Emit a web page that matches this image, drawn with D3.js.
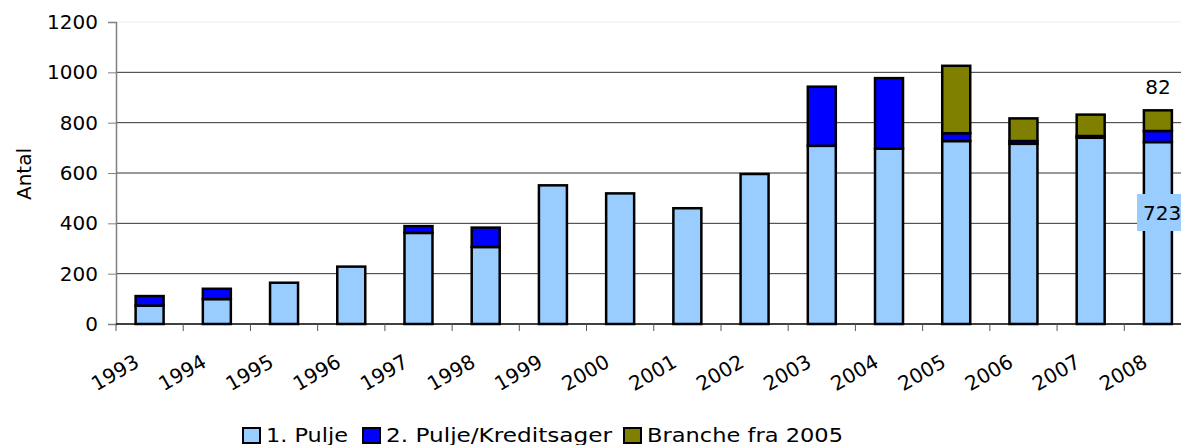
<!DOCTYPE html>
<html>
<head>
<meta charset="utf-8">
<script src="https://cdnjs.cloudflare.com/ajax/libs/d3/7.8.5/d3.min.js"></script>
<style>
  body { margin: 0; background: #fff; }
  svg text { font-family: "DejaVu Sans", Verdana, sans-serif; fill: #000; }
</style>
</head>
<body>
<script>
    // data
    var years = ['1993','1994','1995','1996','1997','1998','1999','2000','2001','2002','2003','2004','2005','2006','2007','2008']
    var pulje1 = [73, 99, 164, 228, 362, 306, 551, 519, 460, 596, 708, 697, 727, 716, 740, 723]
    var pulje2 = [38, 41, 0, 0, 27, 77, 0, 0, 0, 0, 235, 280, 31, 11, 7, 44]
    var branche = [0, 0, 0, 0, 0, 0, 0, 0, 0, 0, 0, 0, 268, 90, 85, 82]
    var seriesNames = ['1. Pulje', '2. Pulje/Kreditsager', 'Branche fra 2005']
    var colors = ['#99ccff', '#0000ff', '#808000']
    var yTicks = [0, 200, 400, 600, 800, 1000, 1200]

    var width = 1181, height = 445

    var svg = d3.select("body")
                .append("svg")
                .attr("width", width)
                .attr("height", height)

    var xscale = d3.scaleBand()
                   .domain(years)
                   .range([116, 1191.5])

    var yscale = d3.scaleLinear()
                   .domain([0, 1200])
                   .range([324, 22])

    // gridlines
    svg.append("g")
       .selectAll("line")
       .data(yTicks.filter(d => d > 0))
       .join("line")
       .attr("x1", 116).attr("x2", width)
       .attr("y1", d => yscale(d)).attr("y2", d => yscale(d))
       .attr("stroke", d => d == 1200 ? "#eeeeee" : "#333")
       .attr("stroke-width", 1)

    // stack data
    var rows = years.map((y, i) => ({year: y, a: pulje1[i], b: pulje2[i], c: branche[i]}))
    var stack = d3.stack().keys(['a', 'b', 'c'])(rows)

    var barW = 28
    stack.forEach((layer, k) => {
        svg.append("g")
           .selectAll("rect")
           .data(layer.filter(d => d[1] - d[0] > 0))
           .join("rect")
           .attr("x", d => xscale(d.data.year) + xscale.bandwidth() / 2 - barW / 2)
           .attr("width", barW)
           .attr("y", d => yscale(d[1]))
           .attr("height", d => yscale(d[0]) - yscale(d[1]))
           .attr("fill", colors[k])
           .attr("stroke", "#000")
           .attr("stroke-width", 2.5)
    })

    // y axis
    var y_axis = d3.axisLeft(yscale).tickValues(yTicks).tickFormat(d3.format("d")).tickSize(8).tickPadding(10)
    var gy = svg.append("g")
       .attr("transform", "translate(116, 0)")
       .call(y_axis)
    gy.select(".domain").attr("stroke", "#808080").attr("stroke-width", 1.5)
    gy.selectAll(".tick line").attr("stroke", "#808080")
    gy.selectAll("text").style("font-size", "20px")

    // x axis (ticks between categories)
    svg.append("line")
       .attr("x1", 116).attr("x2", width)
       .attr("y1", yscale(0)).attr("y2", yscale(0))
       .attr("stroke", "#000").attr("stroke-width", 1.5)
    svg.append("g")
       .selectAll("line")
       .data(years)
       .join("line")
       .attr("x1", d => xscale(d)).attr("x2", d => xscale(d))
       .attr("y1", yscale(0)).attr("y2", yscale(0) + 7)
       .attr("stroke", "#555")
    svg.append("g")
       .selectAll("text")
       .data(years)
       .join("text")
       .attr("text-anchor", "end")
       .attr("transform", d => "translate(" + (xscale(d) + xscale.bandwidth() / 2 - 9) + ",366) rotate(-30)")
       .style("font-size", "20px")
       .text(d => d)

    // y label
    svg.append("text")
       .attr("transform", "translate(31,174) rotate(-90)")
       .attr("text-anchor", "middle")
       .style("font-size", "20px")
       .text("Antal")

    // data labels on 2008
    var last = years.length - 1
    var cx = xscale(years[last]) + xscale.bandwidth() / 2
    svg.append("rect")
       .attr("x", 1137).attr("y", 194)
       .attr("width", 50).attr("height", 37)
       .attr("fill", colors[0])
    svg.append("text")
       .attr("x", 1143).attr("y", 220)
       .style("font-size", "20px")
       .text(pulje1[last])
    svg.append("text")
       .attr("x", cx).attr("y", 94)
       .attr("text-anchor", "middle")
       .style("font-size", "20px")
       .text(branche[last])

    // legend
    var legX = [243, 363, 624]
    var legW = [82, 226, 196]
    var lg = svg.append("g")
    seriesNames.forEach((name, i) => {
        lg.append("rect")
          .attr("x", legX[i]).attr("y", 428)
          .attr("width", 17).attr("height", 15)
          .attr("fill", colors[i])
          .attr("stroke", "#000").attr("stroke-width", 2)
        lg.append("text")
          .attr("x", legX[i] + 23).attr("y", 442)
          .attr("textLength", legW[i])
          .attr("lengthAdjust", "spacingAndGlyphs")
          .style("font-size", "19px")
          .text(name)
    })
</script>
</body>
</html>
